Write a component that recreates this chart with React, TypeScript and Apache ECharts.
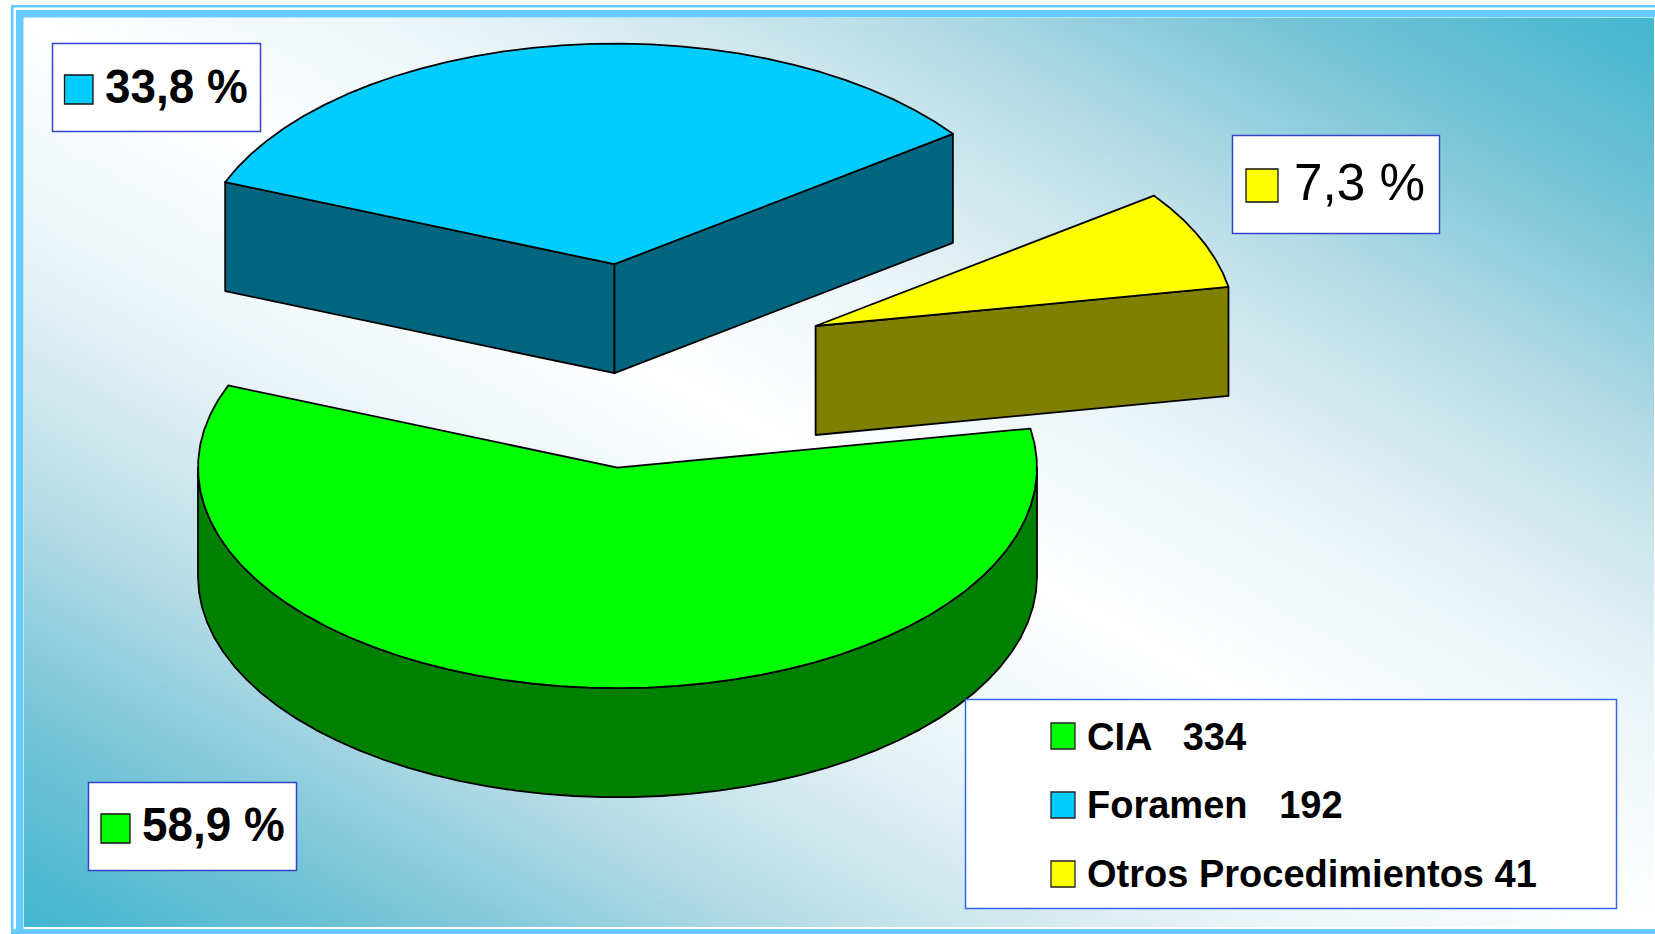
import React, { useEffect, useRef } from "react";
import * as echarts from "echarts";

const categories = ["CIA", "Foramen", "Otros Procedimientos"];
const counts = [334, 192, 41];
const percentLabels = ["58,9 %", "33,8 %", "7,3 %"];
const legendGaps = ["   ", "   ", " "];
const topColors = ["#00FF00", "#00CCFF", "#FFFF00"];
const wallColors = ["#008000", "#00667F", "#808000"];

const W = 1655;
const H = 934;
const sliceApex = [
  [617.5, 467.6],
  [614.5, 264.2],
  [815.6, 326],
];
const RX = 419.5;
const RY = 220.6;
const DEPTH = 109;
const START_DEG = -10.2;
const ARC_STEP = 4;
const EDGE = 1.8;

const boxes = [
  { x: 88.5, y: 782.5, w: 208, h: 88, sx: 101, sy: 814, sw: 29, sh: 29, tx: 142, ty: 849, size: 48, scaleX: 0.955, weight: "bold" },
  { x: 52.5, y: 43.5, w: 208, h: 88, sx: 64.5, sy: 75, sw: 28.5, sh: 29, tx: 105, ty: 111, size: 48, scaleX: 0.955, weight: "bold" },
  { x: 1232.5, y: 135.5, w: 207, h: 98, sx: 1246, sy: 169, sw: 32, sh: 33, tx: 1294, ty: 208, size: 52, scaleX: 0.985, weight: "normal" },
];
const legendBox = { x: 965, y: 699, w: 651, h: 209 };
const legendSwatchX = 1051;
const legendSwatchTop = [723, 792, 861];
const legendBaseline = [756, 824, 893];

function arcPoints(cx: number, cy: number, from: number, to: number) {
  const pts: number[][] = [];
  const n = Math.max(1, Math.round((to - from) / ARC_STEP));
  for (let i = 0; i <= n; i++) {
    const t = ((from + ((to - from) * i) / n) * Math.PI) / 180;
    pts.push([cx + RX * Math.cos(t), cy + RY * Math.sin(t)]);
  }
  return pts;
}

function renderSlice(params: any, api: any) {
  const idx = params.dataIndex;
  const total = counts.reduce((a, b) => a + b, 0);
  const before = counts.slice(0, idx).reduce((a, b) => a + b, 0);
  const a = START_DEG + (before / total) * 360;
  const b = a + (api.value(0) / total) * 360;
  const [cx, cy] = sliceApex[idx];
  const wallStyle = { fill: wallColors[idx], stroke: "#000", lineWidth: EDGE, lineJoin: "round" };
  const down = (p: number[]) => [p[0], p[1] + DEPTH];
  const children: any[] = [];
  const cut = (deg: number) => {
    const edge = arcPoints(cx, cy, deg, deg)[0];
    children.push({
      type: "polygon",
      shape: { points: [[cx, cy], edge, down(edge), down([cx, cy])] },
      style: wallStyle,
    });
  };
  if (Math.cos((a * Math.PI) / 180) < 0) cut(a);
  if (Math.cos((b * Math.PI) / 180) > 0) cut(b);
  const wa = Math.max(a, 0);
  const wb = Math.min(b, 180);
  if (wb > wa) {
    const rim = arcPoints(cx, cy, wa, wb);
    children.push({
      type: "polygon",
      shape: { points: [...rim, ...rim.slice().reverse().map(down)] },
      style: wallStyle,
    });
  }
  children.push({
    type: "polygon",
    shape: { points: [[cx, cy], ...arcPoints(cx, cy, a, b)] },
    style: { fill: topColors[idx], stroke: "#000", lineWidth: EDGE, lineJoin: "round" },
  });
  return { type: "group", children };
}

function backgroundFill(x: number, y: number, w: number, h: number) {
  const L = Math.hypot(w, h);
  const d = (w * h) / L;
  const nx = h / L;
  const ny = -w / L;
  const cx = x + w / 2;
  const cy = y + h / 2;
  return new echarts.graphic.LinearGradient(
    cx - nx * d,
    cy - ny * d,
    cx + nx * d,
    cy + ny * d,
    [
      { offset: 0, color: "#42B6CE" },
      { offset: 0.125, color: "#7AC5D7" },
      { offset: 0.25, color: "#BEDFE8" },
      { offset: 0.375, color: "#EAF4F7" },
      { offset: 0.5, color: "#FFFFFF" },
      { offset: 0.625, color: "#EAF4F7" },
      { offset: 0.75, color: "#BEDFE8" },
      { offset: 0.875, color: "#7AC5D7" },
      { offset: 1, color: "#42B6CE" },
    ],
    true
  );
}

export default function App() {
  const ref = useRef<HTMLDivElement>(null);
  useEffect(() => {
    const chart = echarts.init(ref.current!, null, { renderer: "svg", width: W, height: H });
    const frame = "#66CCFF";
    const graphics: any[] = [
      { type: "rect", z: 0, shape: { x: 24, y: 18, width: 1630, height: 909 }, style: { fill: backgroundFill(24, 18, 1630, 909) } },
      { type: "rect", z: 0, shape: { x: 11, y: 5, width: 1644, height: 2.5 }, style: { fill: frame } },
      { type: "rect", z: 0, shape: { x: 16, y: 10, width: 1639, height: 7.5 }, style: { fill: frame } },
      { type: "rect", z: 0, shape: { x: 11, y: 5, width: 2.5, height: 929 }, style: { fill: frame } },
      { type: "rect", z: 0, shape: { x: 16, y: 10, width: 7.5, height: 924 }, style: { fill: frame } },
      { type: "rect", z: 0, shape: { x: 11, y: 929, width: 1644, height: 5 }, style: { fill: frame } },
    ];
    boxes.forEach((b, i) => {
      graphics.push({
        type: "rect", z: 10,
        shape: { x: b.x, y: b.y, width: b.w, height: b.h },
        style: { fill: "#fff", stroke: "#3344CC", lineWidth: 1.5 },
      });
      graphics.push({
        type: "rect", z: 11,
        shape: { x: b.sx, y: b.sy, width: b.sw, height: b.sh },
        style: { fill: topColors[i], stroke: "#111", lineWidth: 1.3 },
      });
      graphics.push({
        type: "text", z: 11, x: b.tx, y: b.ty, scaleX: b.scaleX,
        style: {
          text: percentLabels[i],
          fontFamily: "Liberation Sans",
          fontSize: b.size,
          fontWeight: b.weight,
          fill: "#000",
          align: "left",
          verticalAlign: "bottom",
        },
      });
    });
    graphics.push({
      type: "rect", z: 10,
      shape: { x: legendBox.x + 0.5, y: legendBox.y + 0.5, width: legendBox.w, height: legendBox.h },
      style: { fill: "#fff", stroke: "#3366EE", lineWidth: 1.5 },
    });
    categories.forEach((c, i) => {
      graphics.push({
        type: "rect", z: 11,
        shape: { x: legendSwatchX, y: legendSwatchTop[i], width: 24, height: 26 },
        style: { fill: topColors[i], stroke: "#222", lineWidth: 1.3 },
      });
      graphics.push({
        type: "text", z: 11, x: 1087, y: legendBaseline[i],
        style: {
          text: `${c}${legendGaps[i]}${counts[i]}`,
          fontFamily: "Liberation Sans",
          fontSize: 38,
          fontWeight: "bold",
          fill: "#000",
          align: "left",
          verticalAlign: "bottom",
        },
      });
    });
    chart.setOption({
      animation: false,
      graphic: { elements: graphics },
      series: [
        {
          type: "custom",
          coordinateSystem: "none",
          silent: true,
          z: 2,
          clip: false,
          encode: { value: 0 },
          data: counts.map((v, i) => ({ name: categories[i], value: [v] })),
          renderItem: renderSlice,
        },
      ],
    });
    return () => chart.dispose();
  }, []);
  return <div ref={ref} style={{ position: "fixed", left: 0, top: 0, width: W, height: H, background: "#fff" }} />;
}
